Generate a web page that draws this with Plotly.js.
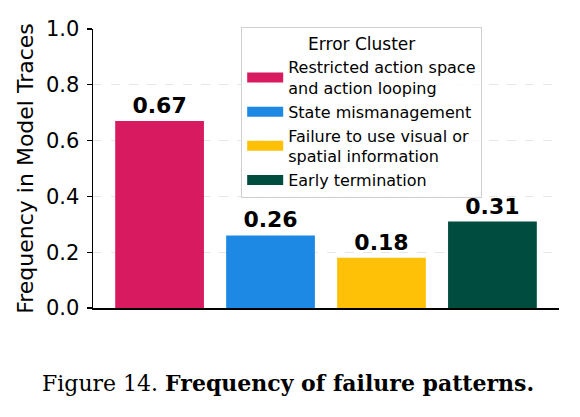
<!DOCTYPE html>
<html><head><meta charset="utf-8">
<script src="https://cdn.plot.ly/plotly-3.0.1.min.js"></script>
<style>html,body{margin:0;padding:0;background:#fff}#chart{width:580px;height:417px}</style>
</head><body><div id="chart"></div>
<script>
const categories = ["Restricted action space<br>and action looping", "State mismanagement", "Failure to use visual or<br>spatial information", "Early termination"];
const values = [0.67, 0.26, 0.18, 0.31];
const colors = ["#D81B60", "#1E88E5", "#FFC107", "#004D40"];
const yTicks = [0, 0.2, 0.4, 0.6, 0.8, 1.0];
const yTickLabels = ["0.0", "0.2", "0.4", "0.6", "0.8", "1.0"];

const font = "DejaVu Sans, sans-serif";
const traces = [];
categories.forEach((c, i) => {
  traces.push({
    type: "bar", x: [i], y: [values[i]], width: 0.8,
    marker: {color: colors[i], line: {width: 0}},
    text: [values[i].toFixed(2)], textposition: "outside",
    textfont: {family: font, size: 22, color: "#000", weight: "bold"},
    cliponaxis: false, showlegend: false, hoverinfo: "skip"
  });
});
categories.forEach((c, i) => {
  traces.push({
    type: "scatter", mode: "lines", x: [null], y: [null], name: c,
    line: {color: colors[i], width: 10}, showlegend: true
  });
});

const layout = {
  width: 580, height: 417,
  margin: {l: 93, r: 21, t: 29, b: 109},
  paper_bgcolor: "#fff", plot_bgcolor: "#fff",
  barmode: "overlay",
  font: {family: font, color: "#000"},
  xaxis: {range: [-0.6, 3.6], showticklabels: false, ticks: "", showgrid: false, zeroline: false,
          showline: true, linecolor: "#000", linewidth: 1.5, fixedrange: true},
  yaxis: {range: [0, 1.0], tickvals: yTicks, ticktext: yTickLabels, ticks: "outside", ticklen: 5,
          tickwidth: 1.2, tickcolor: "#000", showline: true, linecolor: "#000", linewidth: 1.5,
          showgrid: true, gridcolor: "#e6e6e6", griddash: "dash", gridwidth: 1, zeroline: false,
          tickfont: {size: 21, family: font}, ticklabelstandoff: 3,
          title: {text: "Frequency in Model Traces", font: {size: 22, family: font}, standoff: 6}},
  legend: {x: 0.318, y: 1.007, xanchor: "left", yanchor: "top",
           bgcolor: "rgba(255,255,255,0.8)", bordercolor: "#d0d0d0", borderwidth: 1,
           font: {size: 16, family: font}, itemwidth: 36, tracegroupgap: 0,
           title: {text: "Error Cluster", side: "top center", font: {size: 17, family: font}}},
  annotations: [{
    xref: "paper", yref: "paper", x: 0.4195, y: -0.269, xanchor: "center", yanchor: "middle", showarrow: false,
    text: "Figure 14. <b>Frequency of failure patterns.</b>",
    font: {family: "DejaVu Serif, serif", size: 22, color: "#000"}
  }]
};
Plotly.newPlot("chart", traces, layout, {displayModeBar: false, staticPlot: true});
</script></body></html>
